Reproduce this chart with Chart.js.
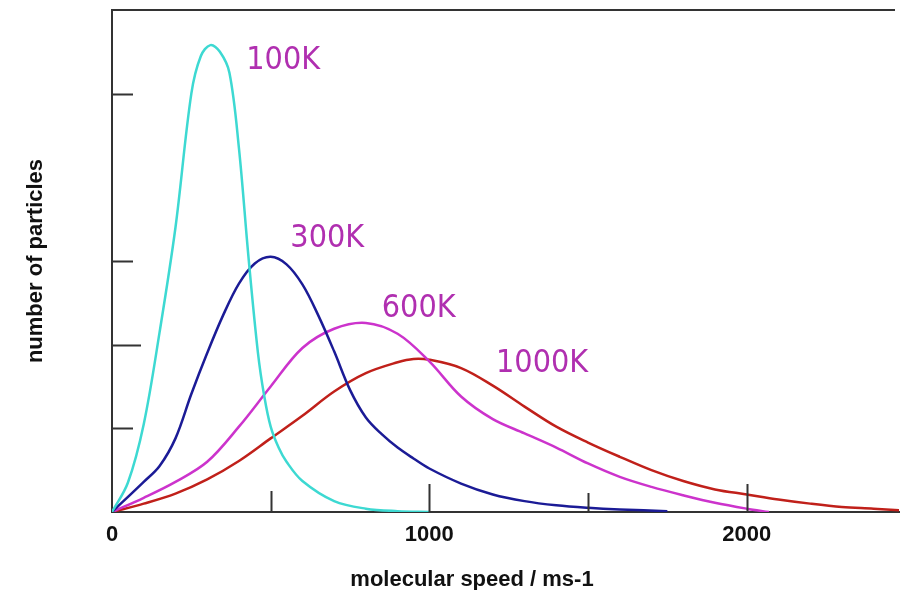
<!DOCTYPE html>
<html lang="en">
<head>
    <meta charset="UTF-8">
    <title>Maxwell-Boltzmann distribution</title>
    <script src="https://cdn.jsdelivr.net/npm/chart.js"></script>
    <style>
        body {
            margin: 0;
            background: #fff;
            overflow: hidden;
        }
        .wrap {
            width: 901px;
            height: 590px;
        }
    </style>
</head>
<body>
    <div class="wrap"><canvas id="speedChart"></canvas></div>
    <script>
        // speeds (m/s) and relative number of particles
        const speeds100 = [0, 50, 100, 150, 200, 250, 280, 310, 340, 370, 400, 430, 460, 480, 500, 525, 550, 600, 700, 800, 900, 1000];
        const counts100 = [0, 0.35, 1.05, 2.15, 3.4, 5.0, 5.45, 5.58, 5.5, 5.25, 4.35, 3.05, 1.9, 1.38, 1.02, 0.77, 0.6, 0.37, 0.13, 0.04, 0.01, 0];

        const speeds300 = [0, 100, 150, 200, 250, 300, 350, 400, 450, 500, 550, 600, 650, 700, 750, 800, 850, 900, 950, 1000, 1100, 1200, 1300, 1400, 1500, 1600, 1750];
        const counts300 = [0, 0.36, 0.55, 0.88, 1.41, 1.9, 2.35, 2.73, 2.97, 3.05, 2.96, 2.72, 2.35, 1.92, 1.46, 1.13, 0.93, 0.77, 0.64, 0.52, 0.34, 0.21, 0.13, 0.08, 0.05, 0.03, 0.01];

        const speeds600 = [0, 100, 200, 300, 400, 500, 600, 700, 800, 900, 1000, 1100, 1200, 1300, 1400, 1500, 1600, 1700, 1800, 1900, 2000, 2070];
        const counts600 = [0, 0.17, 0.36, 0.6, 1.02, 1.5, 1.96, 2.19, 2.26, 2.13, 1.8, 1.38, 1.11, 0.94, 0.77, 0.58, 0.42, 0.3, 0.2, 0.11, 0.04, 0];

        const speeds1000 = [0, 100, 200, 300, 400, 500, 600, 700, 800, 900, 950, 1000, 1100, 1200, 1300, 1400, 1500, 1600, 1700, 1800, 1900, 2000, 2100, 2200, 2300, 2400, 2480];
        const counts1000 = [0, 0.1, 0.22, 0.39, 0.61, 0.88, 1.15, 1.44, 1.66, 1.79, 1.83, 1.82, 1.72, 1.51, 1.26, 1.02, 0.83, 0.66, 0.5, 0.37, 0.27, 0.21, 0.15, 0.1, 0.06, 0.04, 0.02];

        const temps = ['100K', '300K', '600K', '1000K'];
        const xTickLabels = [0, 1000, 2000];
        const xMarks = [500, 1000, 1500, 2000];
        const yMarks = [1, 2, 3, 5];
        // where each temperature label sits (speed, count)
        const labelSpeed = [423, 562, 850, 1210];
        const labelCount = [5.4, 3.27, 2.43, 1.77];

        const xTitle = 'molecular speed / ms-1';
        const yTitle = 'number of particles';

        const lineColors = ['#3dd9d2', '#1b1b96', '#cc33cc', '#c0201a'];

        function pts(xs, ys) {
            return xs.map((v, i) => ({ x: v, y: ys[i] }));
        }

        const axisFont = { family: '"Liberation Sans", Arial, sans-serif', size: 22, weight: 'bold' };

        const axisMarks = {
            id: 'axisMarks',
            afterDatasetsDraw(chart) {
                const { ctx, chartArea: a, scales: { x, y } } = chart;
                ctx.save();
                ctx.strokeStyle = '#333';
                ctx.lineWidth = 2;
                ctx.beginPath();
                ctx.moveTo(a.left, a.top);
                ctx.lineTo(a.right - 4, a.top);
                const xLen = [21, 28, 19, 28];
                xMarks.forEach((v, i) => {
                    const px = Math.round(x.getPixelForValue(v)) + 0.5;
                    ctx.moveTo(px, a.bottom);
                    ctx.lineTo(px, a.bottom - xLen[i]);
                });
                const yLen = [21, 29, 21, 21];
                yMarks.forEach((v, i) => {
                    const py = Math.round(y.getPixelForValue(v)) + 0.5;
                    ctx.moveTo(a.left, py);
                    ctx.lineTo(a.left + yLen[i], py);
                });
                ctx.stroke();

                // axis title sits a little left of the plot centre in the original
                ctx.fillStyle = '#111';
                ctx.font = 'bold 22px "Liberation Sans", Arial, sans-serif';
                ctx.textAlign = 'center';
                ctx.textBaseline = 'middle';
                ctx.fillText(xTitle, 472, 580);

                ctx.fillStyle = '#b02fb0';
                ctx.font = '32px "DejaVu Sans"';
                ctx.textAlign = 'left';
                temps.forEach((t, i) => {
                    ctx.save();
                    ctx.translate(x.getPixelForValue(labelSpeed[i]), y.getPixelForValue(labelCount[i]));
                    ctx.scale(0.9, 1);
                    ctx.fillText(t, 0, 0);
                    ctx.restore();
                });
                ctx.restore();
            }
        };

        new Chart(document.getElementById('speedChart'), {
            type: 'line',
            data: {
                datasets: [
                    { label: temps[0], data: pts(speeds100, counts100) },
                    { label: temps[1], data: pts(speeds300, counts300) },
                    { label: temps[2], data: pts(speeds600, counts600) },
                    { label: temps[3], data: pts(speeds1000, counts1000) }
                ].map((d, i) => Object.assign(d, {
                    borderColor: lineColors[i],
                    borderWidth: 2.5,
                    pointRadius: 0,
                    fill: false,
                    tension: 0.35
                }))
            },
            options: {
                responsive: true,
                maintainAspectRatio: false,
                animation: false,
                layout: { padding: { top: 10, right: 2, left: 0, bottom: 0 } },
                plugins: {
                    legend: { display: false },
                    tooltip: { enabled: false }
                },
                scales: {
                    x: {
                        type: 'linear',
                        min: 0,
                        max: 2480,
                        afterFit: s => { s.height = 78; },
                        afterBuildTicks: s => { s.ticks = xTickLabels.map(v => ({ value: v })); },
                        grid: { display: false, drawTicks: false },
                        border: { display: true, color: '#333', width: 2 },
                        ticks: {
                            color: '#111',
                            font: axisFont,
                            padding: 10,
                            maxRotation: 0,
                            callback: v => String(v)
                        }
                    },
                    y: {
                        min: 0,
                        max: 6,
                        afterFit: s => { s.width = 112; },
                        grid: { display: false, drawTicks: false },
                        border: { display: true, color: '#333', width: 2 },
                        ticks: { display: false },
                        title: {
                            display: true,
                            text: yTitle,
                            color: '#111',
                            font: axisFont,
                            padding: { top: 23, bottom: 0 }
                        }
                    }
                }
            },
            plugins: [axisMarks]
        });
    </script>
</body>
</html>
